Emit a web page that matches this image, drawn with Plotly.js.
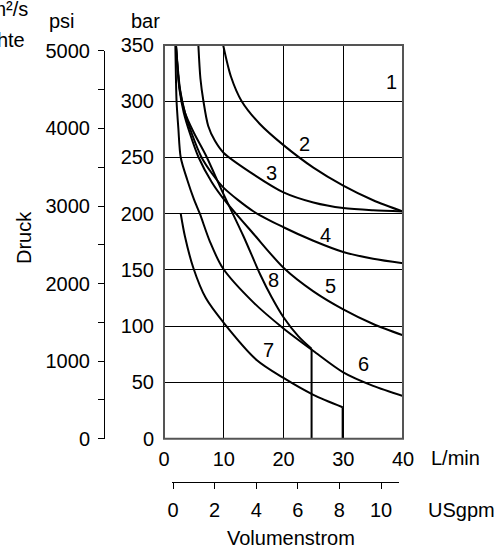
<!DOCTYPE html>
<html>
<head>
<meta charset="utf-8">
<script src="https://cdn.plot.ly/plotly-3.0.1.min.js"></script>
<style>html,body{margin:0;padding:0;background:#fff;} #chart{width:499px;height:550px;}</style>
</head>
<body>
<div id="chart"></div>
<script>
// ---- data ----
const flowTicks = [0, 10, 20, 30, 40];           // L/min
const barTicks = [0, 50, 100, 150, 200, 250, 300, 350];
const psiTicks = [0, 500, 1000, 1500, 2000, 2500, 3000, 3500, 4000, 4500, 5000];
const psiLabels = ['0', '', '1000', '', '2000', '', '3000', '', '4000', '', '5000'];
const gpmTicks = [0, 2, 4, 6, 8, 10];

const curve2X = [9.9, 11.2, 13, 16, 20, 25, 30, 35, 40];
const curve2Y = [350, 322, 300, 280, 261, 241, 225, 212, 202];

const curve3X = [5.75, 6.1, 6.6, 7.4, 8.5, 10, 14.4, 20, 25, 30, 35, 40];
const curve3Y = [350, 320, 300, 278, 265, 254, 237, 219, 210, 205, 203, 202];

const curve4X = [2, 2.7, 3.5, 4.6, 6.3, 8, 10, 15, 20, 25, 30, 35, 40];
const curve4Y = [350, 310, 290, 272, 250, 236, 223, 202, 188, 176, 166, 160, 156];

const curve5X = [2, 2.6, 3.3, 4.3, 5.8, 8, 10, 15, 20, 25, 30, 35, 40];
const curve5Y = [350, 310, 290, 272, 250, 228, 213, 182, 152, 131, 115, 102, 92];

const curve6X = [1.9, 2.0, 2.1, 2.4, 2.8, 3.9, 5.0, 6.0, 7.7, 9.8, 15, 20, 25, 30, 35, 40];
const curve6Y = [350, 320, 300, 276, 250, 230, 213, 200, 175, 152, 121, 98, 78, 59, 47, 38];

// last point = vertical drop to zero
const curve7X = [2.8, 3.5, 4.9, 7, 10, 15.5, 20, 25, 29.9, 29.9];
const curve7Y = [200, 180, 152, 125, 103, 70, 54, 39, 28, 0];

const curve8X = [2, 2.6, 3.5, 5, 7, 10, 13.3, 16.1, 18, 20, 22.5, 24.7, 24.7];
const curve8Y = [350, 312, 290, 272, 252, 217, 180, 146, 126, 108, 91, 80, 0];

const curveLabels = ['1', '2', '3', '4', '5', '6', '7', '8'];
const labelX = [38.1, 23.5, 18.0, 27.0, 27.8, 33.4, 17.5, 18.4];
const labelY = [317, 262, 236, 181, 136, 66, 79, 141];

// ---- build ----
const FONT = 'Liberation Sans, Arial, Helvetica, sans-serif';
const LINE = {color: '#000', width: 2};
const traces = [];
function arc(xs, ys) {
  traces.push({x: xs, y: ys, type: 'scatter', mode: 'lines', line: Object.assign({shape: 'spline', smoothing: 0.8}, LINE), hoverinfo: 'skip', showlegend: false});
}
function arcWithDrop(xs, ys) {
  const n = xs.length;
  arc(xs.slice(0, n - 1), ys.slice(0, n - 1));
  traces.push({x: xs.slice(n - 2), y: ys.slice(n - 2), type: 'scatter', mode: 'lines', line: LINE, hoverinfo: 'skip', showlegend: false});
}
arc(curve2X, curve2Y);
arc(curve3X, curve3Y);
arc(curve4X, curve4Y);
arc(curve5X, curve5Y);
arc(curve6X, curve6Y);
arcWithDrop(curve7X, curve7Y);
arcWithDrop(curve8X, curve8Y);

// invisible traces so that the secondary axes are drawn
traces.push({x: [flowTicks[0]], y: [psiTicks[0]], yaxis: 'y2', type: 'scatter', mode: 'markers', marker: {opacity: 0}, hoverinfo: 'skip', showlegend: false});
traces.push({x: [gpmTicks[0]], y: [barTicks[0]], xaxis: 'x2', type: 'scatter', mode: 'markers', marker: {opacity: 0}, hoverinfo: 'skip', showlegend: false});

const W = 499, H = 550;
const plotL = 164, plotR = 403, plotT = 45, plotB = 438.7;
const xDom = [plotL / W, plotR / W];
const yDom = [(H - plotB) / H, (H - plotT) / H];
const barMax = barTicks[barTicks.length - 1];
const psiMax = psiTicks[psiTicks.length - 1];
const PSI_PER_BAR = 14.5038;
const psiDomTop = yDom[0] + (yDom[1] - yDom[0]) * psiMax / (barMax * PSI_PER_BAR);
const psiAxisX = 104 / W;

const annotations = curveLabels.map((t, i) => ({
  x: labelX[i], y: labelY[i], xref: 'x', yref: 'y', text: t, showarrow: false,
  font: {family: FONT, size: 20, color: '#000'}
}));
function txt(text, xpx, ypx, anchor, extra) {
  annotations.push(Object.assign({x: xpx / W, y: 1 - ypx / H, xref: 'paper', yref: 'paper', text: text, showarrow: false,
    xanchor: anchor || 'center', yanchor: 'middle', font: {family: FONT, size: 20, color: '#000'}}, extra || {}));
}
txt('psi', 61.5, 21);
txt('bar', 145, 21);
txt('32 mm²/s', 30, 9, 'right');
txt('Dichte', 27, 40, 'right');
txt('Druck', 24, 238, 'center', {textangle: -90});
txt('L/min', 455, 458);
txt('USgpm', 461, 510);
txt('Volumenstrom', 291, 538);

const layout = {
  width: W, height: H,
  margin: {l: 0, r: 0, t: 0, b: 0},
  paper_bgcolor: '#fff', plot_bgcolor: 'rgba(0,0,0,0)',
  font: {family: FONT, size: 20, color: '#000'},
  showlegend: false,
  xaxis: {
    domain: xDom, range: [flowTicks[0], flowTicks[flowTicks.length - 1]],
    tickmode: 'array', tickvals: flowTicks, ticks: '', showline: false, zeroline: false,
    showgrid: true, gridcolor: '#000', gridwidth: 1, ticklabelstandoff: 6,
    tickfont: {family: FONT, size: 20, color: '#000'}, fixedrange: true
  },
  yaxis: {
    domain: yDom, range: [0, barMax],
    tickmode: 'array', tickvals: barTicks, ticks: '', showline: false, zeroline: false,
    showgrid: true, gridcolor: '#000', gridwidth: 1, ticklabelstandoff: 9,
    tickfont: {family: FONT, size: 20, color: '#000'}, fixedrange: true
  },
  yaxis2: {
    domain: [yDom[0], psiDomTop], anchor: 'free', position: psiAxisX, side: 'left',
    range: [0, psiMax], tickmode: 'array', tickvals: psiTicks, ticktext: psiLabels,
    ticks: 'outside', ticklen: 6, tickwidth: 1, tickcolor: '#000',
    showline: true, linecolor: '#000', linewidth: 1, showgrid: false, zeroline: false,
    ticklabelstandoff: 4, tickfont: {family: FONT, size: 20, color: '#000'}, fixedrange: true
  },
  xaxis2: {
    domain: [172 / W, 399 / W], anchor: 'free', position: (H - 482.3) / H, side: 'bottom',
    range: [-0.048, 10.865], tickmode: 'array', tickvals: gpmTicks,
    ticks: 'outside', ticklen: 6, tickwidth: 1, tickcolor: '#000',
    showline: true, linecolor: '#000', linewidth: 1, showgrid: false, zeroline: false,
    ticklabelstandoff: 4, tickfont: {family: FONT, size: 20, color: '#000'}, fixedrange: true
  },
  shapes: [
    {type: 'rect', xref: 'x domain', yref: 'y domain', x0: 0, x1: 1, y0: 0, y1: 1, line: {color: '#555', width: 2}, layer: 'above'}
  ],
  annotations: annotations
};

Plotly.newPlot('chart', traces, layout, {staticPlot: true, displayModeBar: false});
</script>
</body>
</html>
